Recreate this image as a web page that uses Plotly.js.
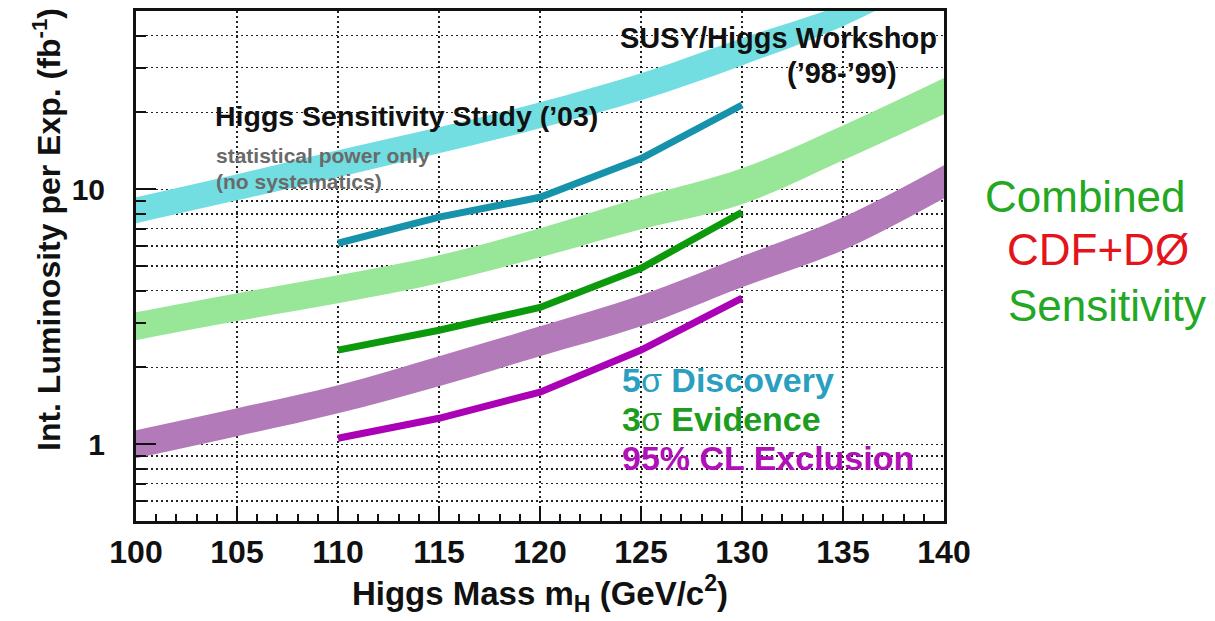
<!DOCTYPE html>
<html>
<head>
<meta charset="utf-8">
<script src="https://cdn.plot.ly/plotly-3.0.1.min.js"></script>
<style>html,body{margin:0;padding:0;background:#fff;}#chart{width:1215px;height:621px;}</style>
</head>
<body>
<div id="chart"></div>
<script>
// ---- data ----
const mass = [100, 105, 110, 115, 120, 125, 130, 135, 140];
// SUSY/Higgs Workshop ('98-'99) band (5 sigma)
const susyLow  = [7.36, 9.05, 11.15, 13.85, 17.35, 22.34, 30.6, 43.6, 69.0];
const susyHigh = [9.30, 11.45, 14.22, 17.51, 21.94, 28.5, 39.1, 53.0, 78.0];
// combined band (3 sigma, light green)
const evidLow  = [2.56, 3.04, 3.57, 4.28, 5.41, 6.97, 8.74, 13.0, 19.7];
const evidHigh = [3.29, 3.91, 4.60, 5.51, 7.03, 9.30, 12.09, 17.8, 27.3];
// combined band (95% CL exclusion, purple)
const exclLow  = [0.881, 1.075, 1.323, 1.689, 2.214, 2.90, 4.13, 5.77, 9.22];
const exclHigh = [1.135, 1.384, 1.704, 2.214, 2.90, 3.84, 5.46, 7.77, 12.42];
// Higgs Sensitivity Study ('03) lines
const studyMass = [110, 115, 120, 125, 130];
const disc5   = [6.14, 7.77, 9.3, 13.2, 21.4];
const evid3   = [2.34, 2.80, 3.44, 4.90, 8.12];
const excl95  = [1.056, 1.264, 1.60, 2.34, 3.74];
// ticks
const xTickVals = [100, 105, 110, 115, 120, 125, 130, 135, 140];
const yTickVals = [1, 10];
const yTickText = ['1', '10'];
const yMinorVals = [0.5, 0.6, 0.7, 0.8, 0.9, 2, 3, 4, 5, 6, 7, 8, 9, 20, 30, 40, 50];

// ---- drawing ----
const FONT = 'Liberation Sans, Arial, Helvetica, sans-serif';
const L = 136, R = 271, T = 11, B = 100, W = 1215, H = 621;
const PW = W - L - R, PH = H - T - B;
const px = v => (v - L) / PW;
const py = v => (H - B - v) / PH;

function band(lo, hi, color) {
  return [
    {x: mass, y: lo, mode: 'lines', line: {width: 0, shape: 'spline', color: color}, hoverinfo: 'skip', showlegend: false},
    {x: mass, y: hi, mode: 'lines', fill: 'tonexty', fillcolor: color, line: {width: 0, shape: 'spline', color: color}, hoverinfo: 'skip', showlegend: false}
  ];
}
function line(y, color) {
  return {x: studyMass, y: y, mode: 'lines', line: {width: 7, color: color}, hoverinfo: 'skip', showlegend: false};
}

const traces = [
  ...band(susyLow, susyHigh, '#72dee2'),
  ...band(evidLow, evidHigh, '#98e698'),
  ...band(exclLow, exclHigh, '#b27ab8'),
  line(disc5, '#1693ab'),
  line(evid3, '#0c990c'),
  line(excl95, '#aa00b6')
];

function ann(text, x, y, size, color, opts) {
  return Object.assign({
    text: text, xref: 'paper', yref: 'paper', x: px(x), y: py(y),
    xanchor: 'left', yanchor: 'middle', showarrow: false,
    font: {family: FONT, size: size, color: color, weight: 700}
  }, opts || {});
}

const annotations = [
  ann('SUSY/Higgs Workshop', 618, 38, 29, '#111'),
  ann('(’98-’99)', 785, 73, 29, '#111'),
  ann('Higgs Sensitivity Study (’03)', 213, 116, 28.5, '#111'),
  ann('statistical power only', 214, 155, 21, '#6a6a6a'),
  ann('(no systematics)', 214, 181, 21, '#6a6a6a'),
  ann('<b>5</b>σ<b> Discovery</b>', 620, 380, 34, '#2a9fbf', {font: {family: FONT, size: 34, color: '#2a9fbf', weight: 400}}),
  ann('<b>3</b>σ<b> Evidence</b>', 620, 419, 34, '#1e9c1e', {font: {family: FONT, size: 34, color: '#1e9c1e', weight: 400}}),
  ann('95% CL Exclusion', 620, 458, 34, '#b010b8'),
  ann('Combined', 1085, 196, 44, '#22a822', {xanchor: 'center', font: {family: FONT, size: 44, color: '#22a822', weight: 400}}),
  ann('CDF+DØ', 1098, 249, 44, '#e3141c', {xanchor: 'center', font: {family: FONT, size: 44, color: '#e3141c', weight: 400}}),
  ann('Sensitivity', 1107, 305, 44, '#22a822', {xanchor: 'center', font: {family: FONT, size: 44, color: '#22a822', weight: 400}}),
  ann('Int. Luminosity per Exp. (fb<sup>-1</sup>)', 47, 230, 32, '#111', {xanchor: 'center', textangle: -90})
];

const gridCol = '#222';
const gridDash = '2px,3px';
const layout = {
  width: W, height: H,
  margin: {l: L, r: R, t: T, b: B},
  paper_bgcolor: '#fff', plot_bgcolor: '#fff',
  showlegend: false,
  xaxis: {
    range: [100, 140], tickmode: 'array', tickvals: xTickVals,
    ticks: 'inside', ticklen: 15, tickwidth: 2, tickcolor: '#111',
    showgrid: true, gridcolor: gridCol, griddash: gridDash, gridwidth: 1.4,
    showline: true, linewidth: 3, linecolor: '#111', mirror: true, zeroline: false,
    tickfont: {family: FONT, size: 32, color: '#111', weight: 700},
    ticklabelstandoff: 1,
    minor: {tickmode: 'linear', tick0: 100, dtick: 1, ticks: 'inside', ticklen: 7, tickwidth: 2, tickcolor: '#111', showgrid: false},
    title: {text: 'Higgs Mass m<sub>H</sub> (GeV/c<sup>2</sup>)', font: {family: FONT, size: 33, color: '#111', weight: 700}, standoff: 13}
  },
  yaxis: {
    type: 'log', range: [Math.log10(0.5), Math.log10(50)],
    tickmode: 'array', tickvals: yTickVals, ticktext: yTickText,
    ticks: 'inside', ticklen: 20, tickwidth: 2, tickcolor: '#111',
    showgrid: true, gridcolor: gridCol, griddash: gridDash, gridwidth: 1.4,
    showline: true, linewidth: 3, linecolor: '#111', mirror: true, zeroline: false,
    tickfont: {family: FONT, size: 30, color: '#111', weight: 700},
    ticklabelstandoff: 22,
    minor: {tickmode: 'array', tickvals: yMinorVals, ticks: 'inside', ticklen: 10, tickwidth: 2, tickcolor: '#111',
            showgrid: true, gridcolor: gridCol, griddash: gridDash, gridwidth: 1.4}
  },
  annotations: annotations
};

Plotly.newPlot('chart', traces, layout, {staticPlot: true, displayModeBar: false});
</script>
</body>
</html>
